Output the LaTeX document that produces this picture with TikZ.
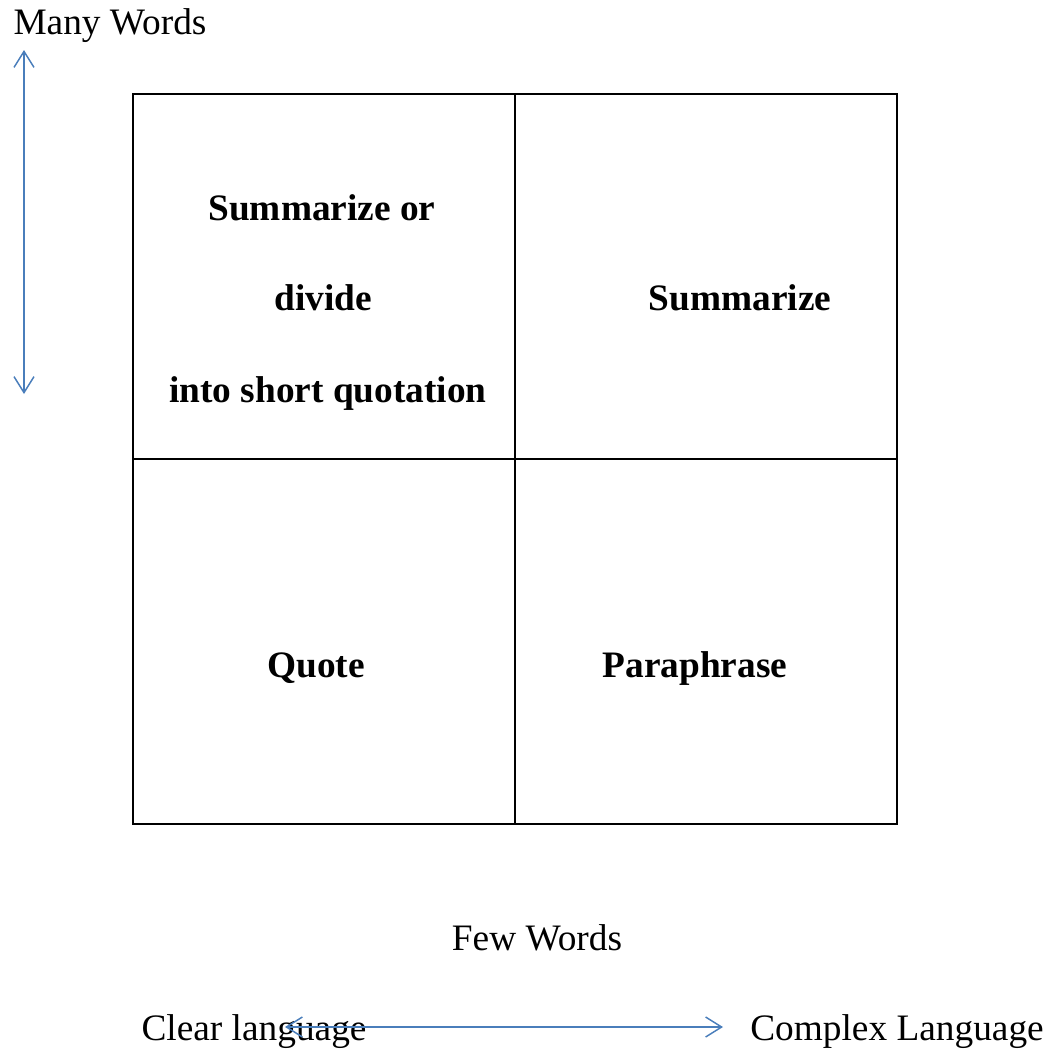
\documentclass[tikz,border=0pt]{standalone}
\usepackage{fontspec}
\setmainfont{Liberation Serif}
\usetikzlibrary{arrows.meta}
\definecolor{arrowblue}{HTML}{4A7EBB}
\tikzset{
  cell/.style={draw=black, line width=1.5pt, minimum width=286.5pt, minimum height=274pt, inner sep=0pt, anchor=north west},
  boldlabel/.style={font=\fontsize{28}{34}\selectfont\bfseries, anchor=base, inner sep=0pt},
  plainlabel/.style={font=\fontsize{28}{34}\selectfont, anchor=base, inner sep=0pt},
  axis/.style={draw=arrowblue, line width=1.1pt, {Straight Barb[length=12pt,width=15pt,line width=1.1pt]}-{Straight Barb[length=12pt,width=15pt,line width=1.1pt]}}
}
\begin{document}
\begin{tikzpicture}[x=0.75pt,y=-0.75pt]
\useasboundingbox (0,0) rectangle (1051,1050);
% grid
\node[cell] (tl) at (132,93) {};
\node[cell] (tr) at (514,93) {};
\node[cell] (bl) at (132,458) {};
\node[cell] (br) at (514,458) {};
% cell texts
\node[boldlabel] (t1) at (322,220) {Summarize or};
\node[boldlabel] (t2) at (323,310) {divide};
\node[boldlabel] (t3) at (328,402) {into short quotation};
\node[boldlabel] (t4) at (740,310) {Summarize};
\node[boldlabel] (t5) at (316,677) {Quote};
\node[boldlabel] (t6) at (695,677) {Paraphrase};
% axis labels
\node[plainlabel] (many) at (110,34) {Many Words};
\node[plainlabel] (few) at (537,950) {Few Words};
\node[plainlabel] (clear) at (254,1040) {Clear language};
\node[plainlabel] (complex) at (897,1040) {Complex Language};
% arrows
\coordinate (vtop) at (24,50);
\coordinate (vbot) at (24,394);
\coordinate (hl) at (285,1027);
\coordinate (hr) at (723,1027);
\draw[axis] (vtop) -- (vbot);
\draw[axis] (hl) -- (hr);
\end{tikzpicture}
\end{document}
